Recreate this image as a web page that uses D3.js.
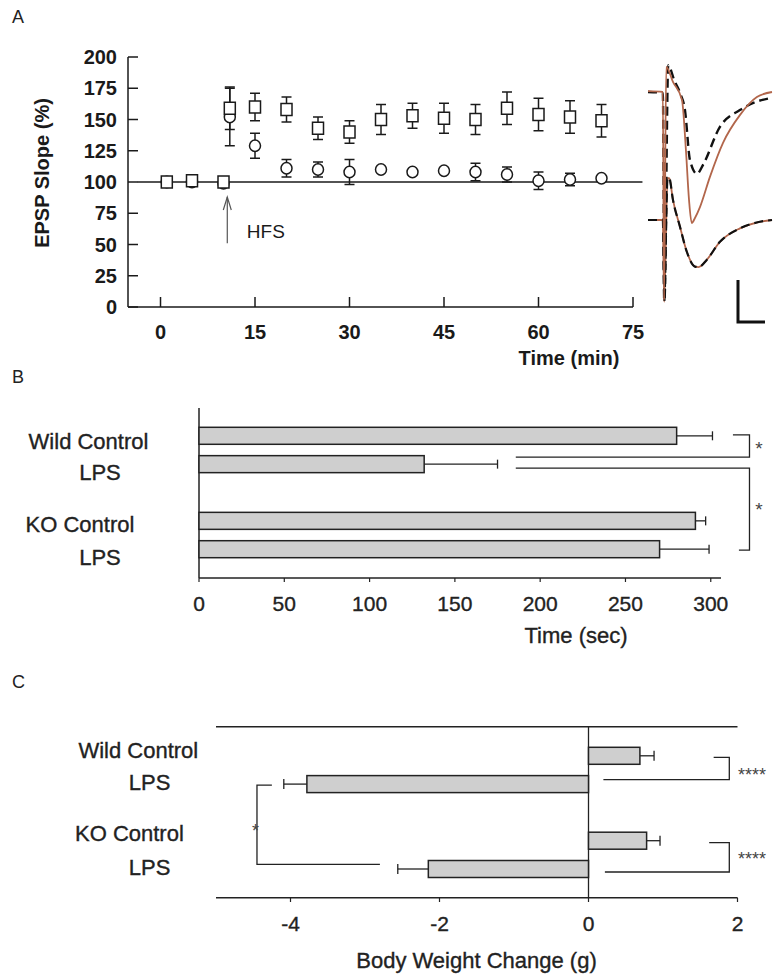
<!DOCTYPE html>
<html><head><meta charset="utf-8">
<script src="https://cdn.jsdelivr.net/npm/d3@7"></script>
<style>body{margin:0;background:#fff}svg{display:block}</style>
</head><body>
<svg id="c" width="775" height="974"></svg>
<script>
// ---------- Panel A data ----------
const timesA = [1,5,10,11,15,20,25,30,35,40,45,50,55,60,65,70];
const squareVals = [100,101,100,159,160,158,143,140,150,153,151,150,159,154,152,149];
const squareErr  = [1,1,1,17,11,10,9,9,12,10,12,12,13,13,13,13];
const circleVals = [100,100,99,152,129,111,110,108,110,108,109,108,106,101,102,103];
const circleErr  = [1,1,1,23,10,7,6,10,2,2,2,7,6,7,5,2];
const yTicksA = [0,25,50,75,100,125,150,175,200];
const xTicksA = [0,15,30,45,60,75];
// inset traces [ms, mV]
const traceUpperRed = [[0,0.02],[1.1,0],[1.19,-4.95],[1.35,0.6],[1.85,0.24],[2.52,-0.19],[2.81,-1.38],[3.04,-2.57],[3.24,-3.12],[3.48,-3.0],[3.85,-2.74],[4.59,-2.02],[5.56,-1.21],[6.81,-0.55],[8.07,-0.12],[9.19,0]];
const traceUpperBlack = [[0,0],[1.1,-0.02],[1.22,-4.95],[1.5,0.64],[1.6,0.6],[1.93,0.29],[2.37,-0.02],[2.74,-0.43],[3.11,-1.62],[3.63,-1.95],[4.07,-1.74],[5.33,-0.83],[6.81,-0.43],[8.05,-0.23],[9.19,-0.14]];
const traceLower = [[0,0],[1.1,0],[1.2,-1.95],[1.45,1.0],[1.58,0.99],[1.85,0.48],[2.37,-0.16],[2.87,-0.75],[3.48,-1.11],[3.75,-1.12],[4.35,-0.95],[5.33,-0.52],[6.81,-0.2],[8.05,-0.06],[9.19,0]];

// ---------- Panel B data ----------
const groupsB = ["Wild Control","LPS","KO Control","LPS"];
const valsB = [280,132,291,270];
const errB  = [21,43,6,29];
const ticksB = [0,50,100,150,200,250,300];

// ---------- Panel C data ----------
const groupsC = ["Wild Control","LPS","KO Control","LPS"];
const valsC = [0.69,-3.78,0.78,-2.15];
const errC  = [0.19,0.31,0.18,0.41];
const ticksC = [-4,-2,0,2];

const svg = d3.select("#c");
const FA = "'Liberation Sans', Arial, sans-serif";
const INK = "#1a1a1a";
const INK2 = "#222";

// panel letters
[["A",23],["B",383],["C",688]].forEach(([t,y])=>{
  svg.append("text").attr("x",12).attr("y",y).attr("font-family",FA).attr("font-size",18).attr("fill","#222").text(t);
});

// ================= Panel A =================
const xA = d3.scaleLinear().domain([-5.16,75]).range([128,633]);
const yA = d3.scaleLinear().domain([0,200]).range([307,57]);
const gA = svg.append("g").attr("stroke",INK).attr("fill","none");
gA.append("line").attr("x1",xA.range()[0]).attr("x2",xA.range()[0]).attr("y1",yA(200)).attr("y2",yA(0)).attr("stroke-width",1.5);
gA.append("line").attr("x1",xA.range()[0]).attr("x2",xA.range()[1]).attr("y1",yA(0)).attr("y2",yA(0)).attr("stroke-width",1.5);
yTicksA.forEach(t=>{
  gA.append("line").attr("x1",xA.range()[0]).attr("x2",xA.range()[0]+10).attr("y1",yA(t)).attr("y2",yA(t)).attr("stroke-width",1.5);
  svg.append("text").attr("x",117).attr("y",yA(t)).attr("dy","0.36em").attr("text-anchor","end")
    .attr("font-family",FA).attr("font-weight","bold").attr("font-size",20).attr("fill",INK).text(t);
});
xTicksA.forEach(t=>{
  gA.append("line").attr("x1",xA(t)).attr("x2",xA(t)).attr("y1",yA(0)).attr("y2",yA(0)-10).attr("stroke-width",1.5);
  svg.append("text").attr("x",xA(t)).attr("y",339).attr("text-anchor","middle")
    .attr("font-family",FA).attr("font-weight","bold").attr("font-size",20).attr("fill",INK).text(t);
});
svg.append("text").attr("x",569).attr("y",365).attr("text-anchor","middle")
  .attr("font-family",FA).attr("font-weight","bold").attr("font-size",20).attr("fill",INK).text("Time (min)");
svg.append("text").attr("transform",`translate(49,${yA(100)-9}) rotate(-90)`).attr("text-anchor","middle")
  .attr("font-family",FA).attr("font-weight","bold").attr("font-size",20).attr("fill",INK).text("EPSP Slope (%)");
// baseline 100%
gA.append("line").attr("x1",xA(-3.6)).attr("x2",xA(76.5)).attr("y1",yA(100)).attr("y2",yA(100)).attr("stroke-width",1.3);
// HFS arrow
const ag = svg.append("g").attr("stroke","#555").attr("stroke-width",1.2).attr("fill","none");
ag.append("line").attr("x1",xA(10.6)).attr("x2",xA(10.6)).attr("y1",yA(51)).attr("y2",yA(88));
ag.append("path").attr("d",`M${xA(10.6)-4},${yA(88)+13}L${xA(10.6)},${yA(88)}L${xA(10.6)+4},${yA(88)+13}`);
svg.append("text").attr("x",xA(13.7)).attr("y",yA(55)).attr("font-family",FA).attr("font-size",19).attr("fill",INK).text("HFS");

function errBars(vals, errs){
  timesA.forEach((t,i)=>{
    const x=xA(t), y1=yA(vals[i]+errs[i]), y2=yA(vals[i]-errs[i]);
    gA.append("line").attr("x1",x).attr("x2",x).attr("y1",y1).attr("y2",y2).attr("stroke-width",1.5);
    gA.append("line").attr("x1",x-5).attr("x2",x+5).attr("y1",y1).attr("y2",y1).attr("stroke-width",1.5);
    gA.append("line").attr("x1",x-5).attr("x2",x+5).attr("y1",y2).attr("y2",y2).attr("stroke-width",1.5);
  });
}
errBars(circleVals,circleErr);
errBars(squareVals,squareErr);
timesA.forEach((t,i)=>{
  gA.append("ellipse").attr("cx",xA(t)).attr("cy",yA(circleVals[i])).attr("rx",5.5).attr("ry",5.8)
    .attr("fill","#fff").attr("stroke-width",1.5);
});
timesA.forEach((t,i)=>{
  gA.append("rect").attr("x",xA(t)-5.5).attr("y",yA(squareVals[i])-6).attr("width",11).attr("height",12)
    .attr("fill","#fff").attr("stroke-width",1.5);
});

// inset traces
const xIn = d3.scaleLinear().domain([0,9.19]).range([648,772]);
const yUp = d3.scaleLinear().domain([0,1]).range([92,50]);
const yLo = d3.scaleLinear().domain([0,1]).range([220,178]);
const lineUp = d3.line().x(d=>xIn(d[0])).y(d=>yUp(d[1])).curve(d3.curveMonotoneX);
const lineLo = d3.line().x(d=>xIn(d[0])).y(d=>yLo(d[1])).curve(d3.curveMonotoneX);
const RED = "#b2664b";
svg.append("path").attr("d",lineLo(traceLower)).attr("fill","none").attr("stroke",RED).attr("stroke-width",1.8);
svg.append("path").attr("d",lineLo(traceLower)).attr("fill","none").attr("stroke","#111").attr("stroke-width",2.2).attr("stroke-dasharray","9,5");
svg.append("path").attr("d",lineUp(traceUpperBlack)).attr("fill","none").attr("stroke","#111").attr("stroke-width",2.4).attr("stroke-dasharray","9,5");
svg.append("path").attr("d",lineUp(traceUpperRed)).attr("fill","none").attr("stroke",RED).attr("stroke-width",1.8);
// scale bar (1 mV, 2 ms)
svg.append("path").attr("d",`M${xIn(6.67)},${yLo(-1.43)}L${xIn(6.67)},${yLo(-2.43)}L${xIn(8.67)},${yLo(-2.43)}`)
  .attr("fill","none").attr("stroke","#111").attr("stroke-width",3);

// helpers for B and C
const slot = i => i + (i>=2?1:0);
const BH = 17;
function label(x,y,str,size,anchor,fill,sw){
  return svg.append("text").attr("x",x).attr("y",y).attr("text-anchor",anchor||"middle")
    .attr("font-family",FA).attr("font-size",size).attr("fill",fill||INK2)
    .attr("stroke",fill||INK2).attr("stroke-width",sw===undefined?0.35:sw).text(str);
}

// ================= Panel B =================
const xB = d3.scaleLinear().domain([0,306]).range([199,721]);
const yB = d3.scaleLinear().domain([0,4]).range([435.8,549.2]);
const gB = svg.append("g").attr("stroke",INK2);
gB.append("line").attr("x1",xB(0)).attr("x2",xB(0)).attr("y1",408).attr("y2",578).attr("stroke-width",1.5);
gB.append("line").attr("x1",xB(0)).attr("x2",xB(306)).attr("y1",578).attr("y2",578).attr("stroke-width",1.5);
ticksB.forEach(t=>{
  gB.append("line").attr("x1",xB(t)).attr("x2",xB(t)).attr("y1",578).attr("y2",582).attr("stroke-width",1.2);
  label(xB(t),611,t,21);
});
label(576,643,"Time (sec)",22);
const labOffB = {"Wild Control":[88.5,12.8],"KO Control":[80,11],"LPS":[100,16]};
valsB.forEach((v,i)=>{
  const yc = yB(slot(i)), xe = xB(v+errB[i]);
  gB.append("line").attr("x1",xB(v)).attr("x2",xe).attr("y1",yc).attr("y2",yc).attr("stroke-width",1.3);
  gB.append("line").attr("x1",xe).attr("x2",xe).attr("y1",yc-4.5).attr("y2",yc+4.5).attr("stroke-width",1.3);
  gB.append("rect").attr("x",xB(0)).attr("y",yc-BH/2).attr("width",xB(v)-xB(0)).attr("height",BH)
    .attr("fill","#cfcfcf").attr("stroke-width",1.5);
  const o = labOffB[groupsB[i]];
  label(o[0],yc+o[1],groupsB[i],22);
});
// significance brackets B
gB.append("path").attr("fill","none").attr("stroke-width",1.3)
  .attr("d",`M${xB(313)},${yB(0)-1}H${xB(322.7)}V${yB(1)-7}H${xB(185.7)}`);
gB.append("path").attr("fill","none").attr("stroke-width",1.3)
  .attr("d",`M${xB(185.7)},${yB(1)+4}H${xB(322.7)}V${yB(4)+1}H${xB(316.5)}`);
label(xB(328.3),yB(0)+19,"*",19,"middle","#444",0);
label(xB(328.3),503+13,"*",19,"middle","#444",0);

// ================= Panel C =================
const xC = d3.scaleLinear().domain([-5,2]).range([216,737.5]);
const yC = d3.scaleLinear().domain([0,4]).range([755.8,869]);
const gC = svg.append("g").attr("stroke",INK2);
gC.append("line").attr("x1",xC(-5)).attr("x2",xC(2)).attr("y1",726.7).attr("y2",726.7).attr("stroke-width",1.5);
gC.append("line").attr("x1",xC(-5)).attr("x2",xC(2)).attr("y1",897.7).attr("y2",897.7).attr("stroke-width",1.5);
gC.append("line").attr("x1",xC(0)).attr("x2",xC(0)).attr("y1",726.7).attr("y2",897.7).attr("stroke-width",1.3);
ticksC.forEach(t=>{
  gC.append("line").attr("x1",xC(t)).attr("x2",xC(t)).attr("y1",897.7).attr("y2",902).attr("stroke-width",1.2);
  label(xC(t),931,t,21);
});
label(476.5,968,"Body Weight Change (g)",22);
const labOffC = {"Wild Control":[138.3,1.8],"KO Control":[129.4,0.2],"LPS":[149.6,6.2]};
valsC.forEach((v,i)=>{
  const yc = yC(slot(i));
  const xe = xC(v + Math.sign(v)*errC[i]);
  gC.append("line").attr("x1",xC(v)).attr("x2",xe).attr("y1",yc).attr("y2",yc).attr("stroke-width",1.3);
  gC.append("line").attr("x1",xe).attr("x2",xe).attr("y1",yc-5).attr("y2",yc+5).attr("stroke-width",1.3);
  gC.append("rect").attr("x",Math.min(xC(0),xC(v))).attr("y",yc-BH/2).attr("width",Math.abs(xC(v)-xC(0))).attr("height",BH)
    .attr("fill","#cfcfcf").attr("stroke-width",1.5);
  const o = labOffC[groupsC[i]];
  label(o[0],yc+o[1],groupsC[i],22);
});
// brackets C
gC.append("path").attr("fill","none").attr("stroke-width",1.3)
  .attr("d",`M${xC(1.68)},${yC(0)+1.5}H${xC(1.89)}V${yC(1)-4.5}H${xC(0.2)}`);
gC.append("path").attr("fill","none").attr("stroke-width",1.3)
  .attr("d",`M${xC(1.62)},${yC(3)+2}H${xC(1.89)}V${yC(4)+3}H${xC(0.22)}`);
gC.append("path").attr("fill","none").attr("stroke-width",1.3)
  .attr("d",`M${xC(-4.25)},${yC(1)+1}H${xC(-4.45)}V${yC(4)-4.7}H${xC(-2.8)}`);
label(752,769+12,"****",18,"middle","#444",0);
label(752,853+12,"****",18,"middle","#444",0);
label(xC(-4.47),825+12,"*",18,"middle","#444",0);
</script>
</body></html>
